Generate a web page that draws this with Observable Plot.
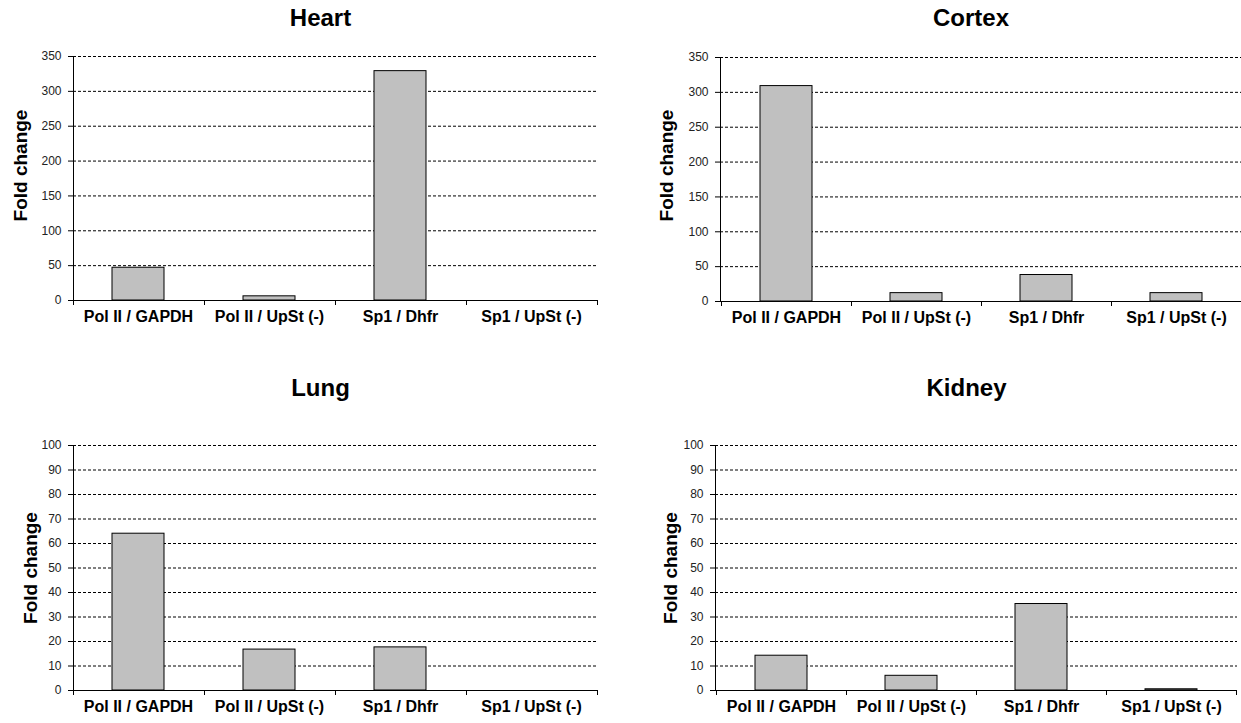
<!DOCTYPE html>
<html><head><meta charset="utf-8">
<script src="https://cdn.jsdelivr.net/npm/d3@7"></script>
<script src="https://cdn.jsdelivr.net/npm/@observablehq/plot@0.6"></script>
<style>
body{margin:0;background:#fff;}
#root{position:relative;width:1241px;height:723px;overflow:hidden;background:#fff;font-family:"Liberation Sans",Arial,sans-serif;}
.panel{position:absolute;}
.panel svg{overflow:visible;}
</style></head><body><div id="root"></div>
<script>
// ---- data ----
const categories = ["Pol II / GAPDH", "Pol II / UpSt (-)", "Sp1 / Dhfr", "Sp1 / UpSt (-)"];
const heartValues = [47, 6, 329, 0];
const cortexValues = [309, 12, 38, 12];
const lungValues = [64, 16.7, 17.6, 0];
const kidneyValues = [14.2, 6, 35.3, 0.5];
const topTicks = [0, 50, 100, 150, 200, 250, 300, 350];
const bottomTicks = [0, 10, 20, 30, 40, 50, 60, 70, 80, 90, 100];
const yLabel = "Fold change";

function boundaryTicks() {
  return (index, scales, values, dimensions) => {
    const x = scales.x;
    const step = typeof x.step === "function" ? x.step() : (x(categories[1]) - x(categories[0]));
    const bw = typeof x.bandwidth === "function" ? x.bandwidth() : 0;
    const y0 = scales.y(0);
    const g = d3.create("svg:g").attr("stroke", "#000").attr("stroke-width", 1);
    const pos = categories.map(c => x(c) + bw / 2 - step / 2);
    pos.push(x(categories[categories.length - 1]) + bw / 2 + step / 2);
    for (const p of pos) {
      const px = Math.round(p) + 0.5;
      g.append("line").attr("x1", px).attr("x2", px).attr("y1", y0).attr("y2", y0 + 5);
    }
    return g.node();
  };
}

function panel(cfg) {
  const data = categories.map((c, i) => ({category: c, value: cfg.values[i]}));
  const max = cfg.ticks[cfg.ticks.length - 1];
  const chart = Plot.plot({
    width: cfg.width, height: cfg.height,
    marginLeft: cfg.mL, marginRight: cfg.mR, marginTop: cfg.mT, marginBottom: cfg.mB,
    style: {fontFamily: "'Liberation Sans', Arial, sans-serif", background: "transparent", color: "#000", overflow: "visible"},
    x: {domain: categories, paddingInner: 0.6, paddingOuter: 0.3, label: null},
    y: {domain: [0, max], label: null},
    marks: [
      Plot.gridY(cfg.ticks.filter(t => t > 0), {stroke: "#000", strokeOpacity: 1, strokeDasharray: "3,2", strokeWidth: 1}),
      Plot.barY(data, {x: "category", y: "value", fill: "#c0c0c0", stroke: "#000", strokeWidth: 1}),
      Plot.ruleY([0], {stroke: "#000"}),
      Plot.frame({anchor: "left", stroke: "#000"}),
      Plot.axisY(cfg.ticks, {tickSize: 5, tickPadding: 7, fontSize: 12, fill: "#222", label: null}),
      Plot.axisX({tickSize: 0, tickPadding: 10, fontSize: 16, fontWeight: "bold", fill: "#000", label: null}),
      boundaryTicks(),
      Plot.text([cfg.title], {frameAnchor: "top", lineAnchor: "middle", dx: cfg.tdx, dy: cfg.tdy, fontSize: 24, fontWeight: "bold", fill: "#000"}),
      Plot.text([yLabel], {frameAnchor: "left", lineAnchor: "middle", textAnchor: "middle", rotate: -90, dx: cfg.ldx, dy: cfg.ldy, fontSize: 19, fontWeight: "bold", fill: "#000"})
    ]
  });
  const div = document.createElement("div");
  div.className = "panel";
  div.style.left = cfg.left + "px";
  div.style.top = cfg.top + "px";
  div.appendChild(chart);
  document.getElementById("root").appendChild(div);
}

panel({title: "Heart", values: heartValues, ticks: topTicks, left: 0, top: 0, width: 620, height: 340,
  mL: 73, mR: 23, mT: 56, mB: 40, tdx: -15, tdy: -38, ldx: -53, ldy: -13});
panel({title: "Cortex", values: cortexValues, ticks: topTicks, left: 620, top: 0, width: 621, height: 340,
  mL: 100, mR: 0, mT: 57, mB: 39, tdx: -10, tdy: -39, ldx: -54, ldy: -14});
panel({title: "Lung", values: lungValues, ticks: bottomTicks, left: 0, top: 360, width: 620, height: 363,
  mL: 73, mR: 23, mT: 85, mB: 33, tdx: -15, tdy: -57, ldx: -43, ldy: 0});
panel({title: "Kidney", values: kidneyValues, ticks: bottomTicks, left: 620, top: 360, width: 621, height: 363,
  mL: 95, mR: 4, mT: 85, mB: 33, tdx: -10, tdy: -57, ldx: -45, ldy: 0});
</script>
</body></html>
